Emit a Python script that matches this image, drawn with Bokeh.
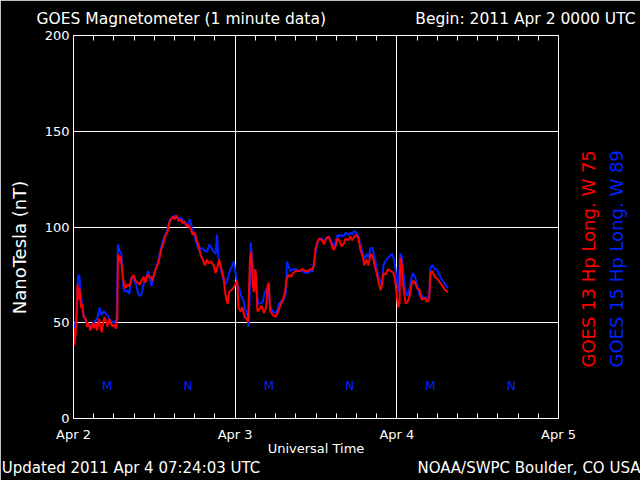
from bokeh.plotting import figure
from bokeh.models import Range1d, FixedTicker, LinearAxis
from bokeh.core.properties import value
from bokeh.embed import file_html
from bokeh.resources import INLINE
import math

FONT = "DejaVu Sans"
RED = "#ff0000"
BLUE = "#0022ff"

# GOES 13 Hp (red), hours since 2011 Apr 2 00:00 UTC
goes13_hours = [0.0, 0.1, 0.3, 0.5, 0.6, 0.8, 0.9, 1.1, 1.3, 1.5, 1.8, 2.0, 2.2, 2.5, 2.8, 3.0, 3.3, 3.5, 3.8,
                4.0, 4.2, 4.4, 4.6, 4.8, 5.0, 5.3, 5.5, 5.8, 6.0, 6.3, 6.5, 6.6, 6.8, 7.0, 7.2, 7.4, 7.7, 8.0,
                8.3, 8.6, 8.9, 9.2, 9.5, 9.8, 10.1, 10.4, 10.7, 11.0, 11.3, 11.5, 11.7, 12.2, 12.6, 13.0, 13.3,
                13.6, 14.0, 14.2, 14.5, 14.8, 15.0, 15.3, 15.6, 15.9, 16.2, 16.5, 16.8, 17.1, 17.4, 17.7, 18.0,
                18.3, 18.6, 18.9, 19.2, 19.5, 19.8, 20.1, 20.4, 20.8, 21.1, 21.3, 21.6, 21.9, 22.1, 22.3, 22.5,
                22.7, 22.9, 23.1, 23.4, 23.7, 24.0, 24.3, 24.5, 24.8, 25.1, 25.4, 25.7, 25.9, 26.0, 26.2, 26.4,
                26.6, 26.8, 27.0, 27.1, 27.3, 27.6, 27.9, 28.3, 28.6, 28.8, 29.0, 29.2, 29.6, 30.0, 30.4, 30.7,
                31.1, 31.4, 31.6, 31.9, 32.3, 32.6, 33.0, 33.5, 34.0, 34.4, 34.8, 35.2, 35.5, 35.7, 35.9, 36.2,
                36.5, 36.9, 37.2, 37.5, 37.9, 38.2, 38.6, 38.9, 39.2, 39.5, 39.8, 40.1, 40.4, 40.8, 41.1, 41.4,
                41.7, 42.0, 42.3, 42.6, 42.9, 43.2, 43.5, 43.8, 44.1, 44.4, 44.7, 45.0, 45.3, 45.6, 45.8, 46.0,
                46.3, 46.7, 47.1, 47.5, 47.7, 48.0, 48.2, 48.4, 48.5, 48.6, 48.8, 48.9, 49.1, 49.3, 49.6, 49.9,
                50.2, 50.4, 50.7, 51.0, 51.4, 51.7, 52.1, 52.5, 52.8, 53.0, 53.3, 53.6, 54.0, 54.4, 54.8, 55.2,
                55.6]
goes13_nt = [47, 38, 44, 55, 70, 62, 68, 58, 60, 53, 52, 48, 50, 46, 50, 47, 50, 46, 52,
             48, 45, 50, 53, 51, 48, 52, 50, 48, 49, 47, 52, 86, 82, 85, 78, 72, 68, 70,
             69, 73, 75, 72, 71, 70, 72, 74, 71, 75, 74, 74, 72, 78, 81, 88, 91,
             95, 98, 102, 104, 105.5, 104, 106, 103, 104, 102, 103, 100, 101, 99, 96, 97,
             93, 90, 85, 83, 80, 83, 81, 82, 80, 76, 78, 83, 79, 76, 73, 66,
             62, 60, 66, 67, 68, 70, 72, 58, 56, 58, 53, 52, 50.5, 60, 84, 87,
             70, 66, 78, 74, 56, 57, 59, 55, 58, 69, 71, 56, 54, 53, 56, 59,
             62, 66, 72, 75, 74, 76, 77, 77, 78, 77, 77, 78, 78, 80, 88, 92,
             94, 93, 91, 94, 95, 92, 88, 90, 94, 93, 90, 91, 94, 93, 95, 93,
             95, 96, 94, 88, 85, 80, 83, 80, 86, 85, 80, 76, 71, 67, 70, 76,
             75, 78, 77, 76, 73, 64, 58, 60, 82, 84, 78, 70, 66, 60, 61, 64,
             70, 72, 71, 68, 67, 62, 63, 61, 62, 76, 77, 74, 73, 71, 69, 67,
             66]

# GOES 15 Hp (blue)
goes15_hours = [0.0, 0.3, 0.5, 0.7, 0.9, 1.0, 1.2, 1.4, 1.7, 2.0, 2.5, 3.0, 3.5, 3.9, 4.1, 4.5, 5.0, 5.5, 6.0,
                6.4, 6.6, 6.8, 7.1, 7.4, 7.7, 8.0, 8.3, 8.6, 9.0, 9.3, 9.6, 9.9, 10.2, 10.5, 10.8, 11.1, 11.4,
                11.6, 12.0, 12.4, 12.8, 13.2, 13.5, 13.9, 14.3, 14.7, 15.1, 15.5, 15.9, 16.3, 16.7, 17.0, 17.3,
                17.6, 17.9, 18.2, 18.6, 19.0, 19.4, 19.8, 20.2, 20.5, 20.8, 21.1, 21.3, 21.5, 21.7, 22.0, 22.3,
                22.6, 22.8, 23.0, 23.3, 23.6, 23.8, 24.1, 24.3, 24.6, 24.9, 25.2, 25.5, 25.8, 26.0, 26.2, 26.3,
                26.5, 26.7, 26.9, 27.2, 27.4, 27.8, 28.1, 28.4, 28.7, 29.0, 29.2, 29.6, 29.9, 30.2, 30.5, 30.8,
                31.2, 31.5, 31.7, 31.9, 32.2, 32.6, 33.0, 33.5, 34.0, 34.4, 34.8, 35.2, 35.5, 35.7, 35.9, 36.2,
                36.5, 36.9, 37.2, 37.5, 37.9, 38.2, 38.6, 38.9, 39.2, 39.5, 39.8, 40.1, 40.4, 40.8, 41.1, 41.4,
                41.7, 42.0, 42.3, 42.6, 42.9, 43.2, 43.5, 43.8, 44.1, 44.4, 44.7, 45.0, 45.3, 45.5, 45.8, 46.0,
                46.3, 46.7, 47.0, 47.3, 47.6, 47.8, 48.0, 48.2, 48.4, 48.5, 48.7, 48.9, 49.1, 49.3, 49.6, 49.9,
                50.2, 50.4, 50.7, 51.0, 51.4, 51.7, 52.1, 52.5, 52.8, 53.0, 53.3, 53.6, 53.9, 54.2, 54.6, 55.0,
                55.4, 55.6]
goes15_nt = [50, 47, 62, 75, 74, 66, 62, 56, 52, 50, 48, 50, 52, 58, 54, 56, 54, 51, 50,
             52, 91, 88, 86, 68, 66, 67, 65, 74, 72, 70, 65, 64, 66, 72, 74, 77, 72,
             69, 76, 80, 86, 92, 95, 98, 104, 105, 106, 104.5, 105, 103.5, 101, 102, 104,
             99, 97, 92, 88, 89, 88, 87, 91, 89, 87, 86, 96, 85, 80, 76, 72,
             70, 72, 74, 78, 80, 82, 75, 70, 68, 64, 62, 57, 54, 48, 70, 92,
             84, 78, 76, 68, 60, 60, 61, 66, 68, 64, 58, 56, 55, 56, 60, 61,
             62, 65, 82, 80, 77, 78, 78, 77, 77, 76, 76, 77, 77, 82, 86, 91,
             94, 94, 92, 94, 95, 93, 90, 92, 96, 95, 96, 95, 97, 96, 97, 96,
             98, 97, 95, 90, 87, 83, 86, 84, 89, 89, 84, 79, 74, 72, 70, 80,
             82, 84, 85, 86, 83, 78, 72, 66, 78, 86, 85, 78, 72, 66, 64, 68,
             74, 76, 74, 70, 64, 64, 63, 63, 64, 79, 80, 78, 78, 76, 73, 71,
             69, 68]

day_ticks = [0, 24, 48, 72]
day_labels = ["Apr 2", "Apr 3", "Apr 4", "Apr 5"]
hour_ticks = list(range(3, 72, 3))
nt_ticks = [0, 50, 100, 150, 200]
mn_hours = [5, 17, 29, 41, 53, 65]
mn_labels = ["M", "N", "M", "N", "M", "N"]

TITLE = "GOES Magnetometer (1 minute data)"
BEGIN = "Begin:  2011 Apr 2 0000 UTC"
UPDATED = "Updated 2011 Apr  4 07:24:03 UTC"
CREDIT = "NOAA/SWPC Boulder, CO USA"
YLABEL = "NanoTesla (nT)"
XLABEL = "Universal Time"
SAT13 = "GOES 13 Hp   Long. W 75"
SAT15 = "GOES 15 Hp   Long. W 89"

# anchor positions (in axis units) for the text carried by auxiliary axes
TOP_POS = [16.0, 67.5]
BOTTOM_POS = [8.9, 68.1]
YLABEL_POS = 89.3
SAT_POS = 26.6

p = figure(width=640, height=480, x_range=Range1d(0, 72), y_range=Range1d(0, 200),
           output_backend="svg", toolbar_location=None,
           min_border_left=73, min_border_right=82, min_border_top=35, min_border_bottom=62,
           background_fill_color="black", border_fill_color="black",
           outline_line_color="white", outline_line_width=1)

# grid
p.xgrid.ticker = FixedTicker(ticks=[24, 48])
p.ygrid.ticker = FixedTicker(ticks=[50, 100, 150])
for g in (p.xgrid[0], p.ygrid[0]):
    g.grid_line_color = "white"
    g.grid_line_alpha = 1.0
    g.grid_line_width = 1


def text_axis(ax, color, size, standoff):
    ax.axis_line_color = None
    ax.major_tick_in = 0
    ax.major_tick_out = 0
    ax.minor_tick_line_color = None
    ax.major_label_text_color = color
    ax.major_label_text_font = FONT
    ax.major_label_text_font_size = size
    ax.major_label_standoff = standoff


# bottom axis
xa = p.xaxis[0]
xa.ticker = FixedTicker(ticks=day_ticks, minor_ticks=hour_ticks)
xa.major_label_overrides = {t: l for t, l in zip(day_ticks, day_labels)}
xa.axis_line_color = "white"
xa.major_tick_in = 0
xa.major_tick_out = 0
xa.minor_tick_in = 5
xa.minor_tick_out = 0
xa.minor_tick_line_color = "white"
xa.major_label_text_color = "white"
xa.major_label_text_font = FONT
xa.major_label_text_font_size = "13px"
xa.major_label_standoff = 8
xa.axis_label = XLABEL
xa.axis_label_text_color = "white"
xa.axis_label_text_font = FONT
xa.axis_label_text_font_size = "13px"
xa.axis_label_text_font_style = "normal"
xa.axis_label_standoff = -4

# second bottom axis: footer texts
ba = LinearAxis(ticker=FixedTicker(ticks=BOTTOM_POS),
                major_label_overrides={BOTTOM_POS[0]: UPDATED, BOTTOM_POS[1]: CREDIT})
text_axis(ba, "white", "15px", 0)
p.add_layout(ba, "below")

# top axis: minor ticks plus header texts
ta = LinearAxis(ticker=FixedTicker(ticks=TOP_POS, minor_ticks=hour_ticks),
                major_label_overrides={TOP_POS[0]: TITLE, TOP_POS[1]: BEGIN})
text_axis(ta, "white", "15.5px", 8)
ta.axis_line_color = "white"
ta.minor_tick_line_color = "white"
ta.minor_tick_in = 5
ta.minor_tick_out = 0
p.add_layout(ta, "above")

# left axis
ya = p.yaxis[0]
ya.ticker = FixedTicker(ticks=nt_ticks)
ya.axis_line_color = "white"
ya.major_tick_in = 0
ya.major_tick_out = 0
ya.minor_tick_line_color = None
ya.major_label_text_color = "white"
ya.major_label_text_font = FONT
ya.major_label_text_font_size = "13px"
ya.major_label_standoff = 4

# outer left axis: y title
la = LinearAxis(ticker=FixedTicker(ticks=[YLABEL_POS]),
                major_label_overrides={YLABEL_POS: YLABEL},
                major_label_orientation="parallel")
text_axis(la, "white", "18px", 11)
p.add_layout(la, "left")

# right axes: satellite legends, reading upwards
ra13 = LinearAxis(ticker=FixedTicker(ticks=[SAT_POS]),
                  major_label_overrides={SAT_POS: SAT13},
                  major_label_orientation=math.pi / 2)
text_axis(ra13, RED, "18px", 30)
p.add_layout(ra13, "right")
ra15 = LinearAxis(ticker=FixedTicker(ticks=[SAT_POS]),
                  major_label_overrides={SAT_POS: SAT15},
                  major_label_orientation=math.pi / 2)
text_axis(ra15, BLUE, "18px", 4)
p.add_layout(ra15, "right")

# data
p.line(goes15_hours, goes15_nt, line_color=BLUE, line_width=2)
p.line(goes13_hours, goes13_nt, line_color=RED, line_width=2)

MN_Y = 17
p.text(x=mn_hours, y=[MN_Y] * len(mn_hours), text=mn_labels, text_color=BLUE,
       text_font=value(FONT), text_font_size="12px", text_align="center",
       text_baseline="middle")

open("out.html", "w").write(file_html(p, INLINE))
